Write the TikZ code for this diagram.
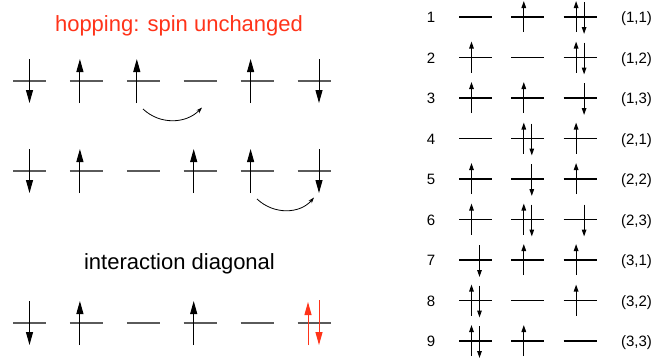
\documentclass[tikz,border=0pt]{standalone}
\usepackage{fontspec}
\setmainfont{Liberation Sans}
\usepackage{tikz}
\usetikzlibrary{arrows.meta}

\definecolor{hopred}{RGB}{255,51,25}
\definecolor{levelgray}{RGB}{90,90,90}

\begin{document}
\begin{tikzpicture}[
        x=1pt, y=-1pt,
        level/.style={
            draw=levelgray,
            line width=1.3pt
        },
        tablelevel/.style={
            draw=black,
            line width=1.2pt
        },
        spin/.style={
            -{Triangle[length=13pt,width=7pt]},
            line width=1pt
        },
        smallspin/.style={
            -{Triangle[length=7pt,width=4.5pt]},
            line width=1.2pt
        },
        hop/.style={
            -{Stealth[length=6pt,width=4pt]},
            line width=0.8pt
        },
        heading/.style={
            anchor=base,
            font=\fontsize{22}{26}\selectfont
        },
        tag/.style={
            anchor=base,
            font=\fontsize{15}{18}\selectfont
        }
    ]
    \useasboundingbox (0,0) rectangle (654,359);

    % Headings
    \node[heading, text=hopred] (hopping) at (179,31) {hopping: spin unchanged};
    \node[heading] (interaction) at (179.5,269) {interaction diagonal};

    % Left chain: levels
    \foreach \r/\y in {1/81, 2/171, 3/323} {
        \foreach \c in {1,...,6} {
            \coordinate (site-\r-\c) at ({29.5+56.9*(\c-1)},\y);
            \draw[level] ([xshift=-16.5pt]site-\r-\c) -- ([xshift=16.5pt]site-\r-\c);
        }
    }

    % Left chain: spins
    \foreach \r/\c in {1/2, 1/3, 1/5, 2/2, 2/4, 2/5, 3/2, 3/4}
        \draw[spin] ([xshift=-6.5pt,yshift=-22pt]site-\r-\c) -- ([xshift=-6.5pt,yshift=22pt]site-\r-\c);
    \foreach \r/\c/\dx in {1/1/0, 1/6/5, 2/1/0, 2/6/5, 3/1/0}
        \draw[spin] ([xshift=\dx pt,yshift=22pt]site-\r-\c) -- ([xshift=\dx pt,yshift=-22pt]site-\r-\c);
    \draw[spin, draw=hopred, fill=hopred] ([xshift=-6pt,yshift=-22pt]site-3-6) -- ([xshift=-6pt,yshift=21pt]site-3-6);
    \draw[spin, draw=hopred, fill=hopred] ([xshift=5pt,yshift=23pt]site-3-6) -- ([xshift=5pt,yshift=-22pt]site-3-6);

    % Hopping arrows
    \coordinate (hopA-from) at (143,109);
    \coordinate (hopA-to) at (202,107.5);
    \coordinate (hopB-from) at (257,199);
    \coordinate (hopB-to) at (314,197.5);
    \draw[hop] (hopA-from) .. controls (160,125) and (186,124) .. (hopA-to);
    \draw[hop] (hopB-from) .. controls (274,215) and (300,214) .. (hopB-to);

    % Basis table: levels, numbers and labels
    \foreach \r/\lab in {1/{(1,1)}, 2/{(1,2)}, 3/{(1,3)}, 4/{(2,1)}, 5/{(2,2)},
                         6/{(2,3)}, 7/{(3,1)}, 8/{(3,2)}, 9/{(3,3)}} {
        \pgfmathsetmacro{\yrow}{17+40.5*(\r-1)}
        \node[tag] (num-\r) at (431,\yrow+5.5) {\r};
        \node[tag] (lab-\r) at (636.5,\yrow+5.5) {\lab};
        \foreach \c in {1,2,3} {
            \coordinate (orb-\r-\c) at ({475.5+52.3*(\c-1)},\yrow);
            \draw[tablelevel] ([xshift=-16.5pt]orb-\r-\c) -- ([xshift=16.5pt]orb-\r-\c);
        }
    }

    % Basis table: spins
    \foreach \r/\c in {1/2, 1/3, 2/1, 2/3, 3/1, 3/2, 4/2, 4/3, 5/1,
                       5/3, 6/1, 6/2, 7/2, 7/3, 8/1, 8/3, 9/1, 9/2}
        \draw[smallspin] ([xshift=-4pt,yshift=-15pt]orb-\r-\c) -- ([xshift=-4pt,yshift=16pt]orb-\r-\c);
    \foreach \r/\c in {1/3, 2/3, 3/3, 4/2, 5/2, 6/2, 6/3, 7/1, 8/1, 9/1}
        \draw[smallspin] ([xshift=4pt,yshift=15pt]orb-\r-\c) -- ([xshift=4pt,yshift=-17pt]orb-\r-\c);

\end{tikzpicture}
\end{document}
